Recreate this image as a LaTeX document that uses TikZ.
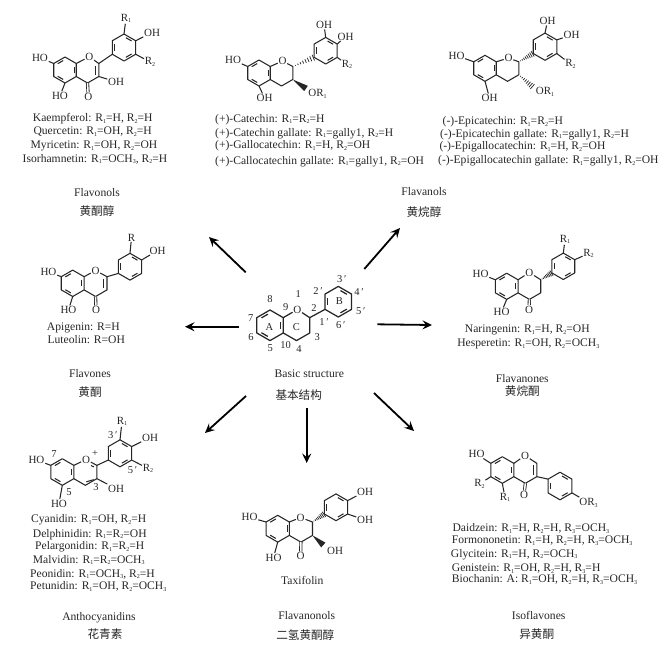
\documentclass[tikz,border=0pt]{standalone}
\usepackage{fontspec}
\setmainfont{Liberation Serif}
\newfontfamily\cjkf{Noto Sans CJK SC}
\usetikzlibrary{calc,arrows.meta}
\definecolor{ink}{HTML}{262626}
\newcommand\subx[1]{\raisebox{-.35ex}{\fontsize{6}{6}\selectfont #1}}
\newcommand\Ra{R\subx{1}}
\newcommand\Rb{R\subx{2}}
\newcommand\Rc{R\subx{3}}
\newcommand\och{OCH\subx{3}}
\tikzset{
  bond/.style={draw=ink,line width=1.05pt,line join=round},
  dbond/.style={draw=ink,line width=.85pt,double=white,double distance=1.5pt},
  arr/.style={draw=black,line width=1.8pt,-{Stealth[length=9.5pt,width=9pt,inset=3.5pt]}},
  atom/.style={inner sep=.6pt,text=ink,font=\fontsize{11}{12}\selectfont},
  num/.style={inner sep=0pt,text=ink,font=\fontsize{10.5}{12}\selectfont},
  txt/.style={inner sep=0pt,text=ink,font=\fontsize{11.6}{12}\selectfont},
  ltxt/.style={txt,anchor=west},
  cn/.style={inner sep=0pt,text=ink,font=\cjkf\fontsize{11.6}{12}\selectfont}
}
% prefix, r, cx, cy, inner double-bond edges
\newcommand\hexa[5]{%
  \foreach \k in {30,90,150,210,270,330}
    \coordinate (#1\k) at ({#3+#2*cos(\k)},{#4-#2*sin(\k)});
  \draw[bond] (#130)--(#190)--(#1150)--(#1210)--(#1270)--(#1330)--cycle;
  \foreach \k in {#5}
    \draw[bond] ({#3+.74*#2*cos(\k+11)},{#4-.74*#2*sin(\k+11)})--({#3+.74*#2*cos(\k+49)},{#4-.74*#2*sin(\k+49)});
}
% r, cx, cy: A ring plus atoms of the pyran ring
\newcommand\core[3]{%
  \hexa{a}{#1}{#2}{#3}{90,210,330}
  \coordinate (c2) at ({#2+2.598*#1},{#3-.5*#1});
  \coordinate (c3) at ({#2+2.598*#1},{#3+.5*#1});
  \coordinate (c4) at ({#2+1.732*#1},{#3+#1});
}
% closes the pyran ring through the named oxygen node
\newcommand\pyran[1]{\draw[bond] (a30)--(#1)--(c2)--(c3)--(c4)--(a330);}
\newcommand\ccdbl{\draw[bond] ($(c2)+(-3.2,2)$)--($(c3)+(-3.2,-2)$);}
\newcommand\hashb[2]{%
  \foreach \t in {.12,.24,...,1.0}{
    \pgfmathsetmacro\w{\t*3.2}
    \draw[draw=ink,line width=.75pt] ($(#1)!\t!(#2)!\w pt!90:(#2)$)--($(#1)!\t!(#2)!\w pt!-90:(#2)$);
  }}
\newcommand\solidw[2]{\fill[ink] (#1)--($(#2)!3.2pt!90:(#1)$)--($(#2)!3.2pt!-90:(#1)$)--cycle;}
\begin{document}
\begin{tikzpicture}[x=1pt,y=-1pt]
\useasboundingbox (0,0) rectangle (668,646);

%% Flavonols
\core{13}{65}{70}
\hexa{b}{13.5}{124}{47.5}{30,150,270}
\node[atom] (foO) at (89.3,56.7) {O};
\pyran{foO}\ccdbl
\draw[bond] (c2)--(b210);
\node[atom] (foHOa) at (40,57.7) {HO};
\node[atom] (foHOb) at (60,95.7) {HO};
\node[atom] (foOc) at (88.3,97) {O};
\node[atom] (foOH) at (116,81.7) {OH};
\node[atom] (foRa) at (126,18.5) {\Ra};
\node[atom] (foOHb) at (152,32.5) {OH};
\node[atom] (foRb) at (150,62) {\Rb};
\draw[bond] (a150)--(foHOa) (a270)--(foHOb) (c3)--(foOH) (b90)--(foRa) (b30)--(foOHb) (b330)--(foRb);
\draw[dbond] (c4)--(foOc);
\node[txt] (foT1) at (92.7,119) {Kaempferol: \Ra=H, \Rb=H};
\node[txt] (foT2) at (92.7,131.3) {Quercetin: \Ra=OH, \Rb=H};
\node[txt] (foT3) at (94,146) {Myricetin: \Ra=OH, \Rb=OH};
\node[txt] (foT4) at (95,159) {Isorhamnetin: \Ra=\och, \Rb=H};
\node[txt] (foN) at (97,192.3) {Flavonols};
\node[cn] (foC) at (97,211.5) {黄酮醇};

%% (+) Flavanols
\core{13}{259}{73}
\hexa{b}{13.3}{325.7}{50.7}{30,150,270}
\node[atom] (faO) at (282.5,61) {O};
\pyran{faO}
\hashb{c2}{b210}
\coordinate (faW) at (306,88.5);
\solidw{c3}{faW}
\node[atom] (faHO) at (233,60) {HO};
\node[atom] (faOHb) at (264.5,98) {OH};
\node[atom] (faOR) at (317.5,94) {OR\subx{1}};
\node[atom] (faOHt) at (324,25) {OH};
\node[atom] (faOHr) at (345.5,36.5) {OH};
\node[atom] (faRb) at (347,64.5) {\Rb};
\draw[bond] (a150)--(faHO) (a270)--(faOHb) (b90)--(faOHt) (b30)--(faOHr) (b330)--(faRb);
\node[ltxt] (faT1) at (215,119.3) {(+)-Catechin: \Ra=\Rb=H};
\node[ltxt] (faT2) at (215,133.3) {(+)-Catechin gallate: \Ra=gally1, \Rb=H};
\node[ltxt] (faT3) at (215,145.7) {(+)-Gallocatechin: \Ra=H, \Rb=OH};
\node[ltxt] (faT4) at (215,161.3) {(+)-Callocatechin gallate: \Ra=gally1, \Rb=OH};
\node[txt] (faN) at (424,192) {Flavanols};
\node[cn] (faC) at (424,211.7) {黄烷醇};

%% (-) Flavanols
\core{13}{485}{68.3}
\hexa{b}{13.6}{545}{46.7}{30,150,270}
\node[atom] (feO) at (508.5,58) {O};
\pyran{feO}
\hashb{c2}{b210}
\coordinate (feW) at (533,87);
\hashb{c3}{feW}
\node[atom] (feHO) at (456.5,55.5) {HO};
\node[atom] (feOHb) at (489.5,98) {OH};
\node[atom] (feOR) at (545,91.5) {OR\subx{1}};
\node[atom] (feOHt) at (547.5,21) {OH};
\node[atom] (feOHr) at (571.5,35) {OH};
\node[atom] (feRb) at (570.5,64) {\Rb};
\draw[bond] (a150)--(feHO) (a270)--(feOHb) (b90)--(feOHt) (b30)--(feOHr) (b330)--(feRb);
\node[ltxt] (feT1) at (442.5,121.7) {(-)-Epicatechin: \Ra=\Rb=H};
\node[ltxt] (feT2) at (440,134.3) {(-)-Epicatechin gallate: \Ra=gally1, \Rb=H};
\node[ltxt] (feT3) at (439.3,147) {(-)-Epigallocatechin: \Ra=H, \Rb=OH};
\node[ltxt] (feT4) at (438,160.7) {(-)-Epigallocatechin gallate: \Ra=gally1, \Rb=OH};

%% Flavones
\core{13.2}{72.7}{283.3}
\hexa{b}{13.4}{130}{266.7}{30,150,270}
\node[atom] (fnO) at (95.5,270.5) {O};
\pyran{fnO}\ccdbl
\draw[bond] (c2)--(b210);
\node[atom] (fnHOa) at (48.5,271.7) {HO};
\node[atom] (fnHOb) at (68.5,310) {HO};
\node[atom] (fnOc) at (96,310) {O};
\node[atom] (fnR) at (131.5,237.5) {R};
\node[atom] (fnOH) at (157.5,250.5) {OH};
\draw[bond] (a150)--(fnHOa) (a270)--(fnHOb) (b90)--(fnR) (b30)--(fnOH);
\draw[dbond] (c4)--(fnOc);
\node[ltxt] (fnT1) at (46.7,327.7) {Apigenin: R=H};
\node[ltxt] (fnT2) at (47.3,340) {Luteolin: R=OH};
\node[txt] (fnN) at (90,374) {Flavones};
\node[cn] (fnC) at (90,392.3) {黄酮};

%% Basic structure
\tikzset{bond/.append style={line width=1.25pt}}
\core{15.3}{270}{325.3}
\hexa{b}{15.3}{338.3}{301.7}{30,150,270}
\node[atom] (bsO) at (297.3,309.5) {O};
\pyran{bsO}
\draw[bond] (c2)--(b210);
\tikzset{bond/.append style={line width=1.05pt}}
\node[num] (n8) at (270,299.3) {8};
\node[num] (n9) at (285.7,307.3) {9};
\node[num] (n1) at (298.3,294) {1};
\node[num] (n2) at (314,308.3) {2};
\node[num] (n7) at (250.7,318) {7};
\node[num] (n6) at (251,337) {6};
\node[num] (n5) at (270.3,348) {5};
\node[num] (n10) at (285.7,345) {10};
\node[num] (n4) at (299,349.3) {4};
\node[num] (n3) at (317.3,337) {3};
\node[num] (nA) at (269.3,327.3) {A};
\node[num] (nC) at (296.3,327.3) {C};
\node[num] (nB) at (339.3,300.7) {B};
\node[num] (n1p) at (324,321.7) {1\,′};
\node[num] (n2p) at (318,290.7) {2\,′};
\node[num] (n3p) at (341.7,279.3) {3\,′};
\node[num] (n4p) at (359,292) {4\,′};
\node[num] (n5p) at (360.7,310.7) {5\,′};
\node[num] (n6p) at (340.7,325) {6\,′};
\node[txt] (bsN) at (309.3,374) {Basic structure};
\node[cn] (bsC) at (298.7,394.7) {基本结构};

%% Flavanones
\core{13.1}{506.7}{286.3}
\hexa{b}{13.2}{563.3}{266.3}{30,150,270}
\node[atom] (fvO) at (529.3,272.5) {O};
\pyran{fvO}
\hashb{c2}{b210}
\node[atom] (fvHO) at (480.5,274) {HO};
\node[atom] (fvHOb) at (501.5,312) {HO};
\node[atom] (fvOc) at (529,309.5) {O};
\node[atom] (fvRa) at (565,239.5) {\Ra};
\node[atom] (fvRb) at (588.5,253.5) {\Rb};
\draw[bond] (a150)--(fvHO) (a270)--(fvHOb) (b90)--(fvRa) (b30)--(fvRb);
\draw[dbond] (c4)--(fvOc);
\node[txt] (fvT1) at (527.3,330) {Naringenin: \Ra=H, \Rb=OH};
\node[txt] (fvT2) at (528.3,344.3) {Hesperetin: \Ra=OH, \Rb=\och};
\node[txt] (fvN) at (522.3,378.3) {Flavanones};
\node[cn] (fvC) at (522.3,391.3) {黄烷酮};

%% Anthocyanidins
\core{13.3}{62.3}{472}
\hexa{b}{13.5}{120}{453.3}{30,150,270}
\node[atom] (anO) at (86,459.5) {O};
\pyran{anO}
\draw[bond] (c2)--(b210);
\draw[bond] ($(c3)+(-3.2,1)$)--($(c4)+(1,-3.5)$);
\draw[bond] ($(anO)+(5,6)$)--($(c2)+(-3,1.5)$);
\node[num] (anP) at (95,453.5) {+};
\node[atom] (anHOa) at (36.5,460) {HO};
\node[atom] (anHOb) at (59,503.5) {HO};
\node[atom] (anOH) at (116,488.5) {OH};
\node[atom] (anRa) at (122,421.5) {\Ra};
\node[atom] (anOHb) at (150,437.5) {OH};
\node[atom] (anRb) at (148,468.5) {\Rb};
\draw[bond] (a150)--(anHOa) (a270)--(anHOb) (c3)--(anOH) (b90)--(anRa) (b30)--(anOHb) (b330)--(anRb);
\node[num] (an7) at (54,454) {7};
\node[num] (an5) at (69,491.7) {5};
\node[num] (an3) at (96,487.3) {3};
\node[num] (an3p) at (112.7,435) {3\,′};
\node[num] (an5p) at (132.5,470) {5\,′};
\node[ltxt] (anT1) at (31,520) {Cyanidin: \Ra=OH, \Rb=H};
\node[ltxt] (anT2) at (32.7,534.3) {Delphinidin: \Ra=\Rb=OH};
\node[ltxt] (anT3) at (35,547) {Pelargonidin: \Ra=\Rb=H};
\node[ltxt] (anT4) at (32.7,560) {Malvidin: \Ra=\Rb=\och};
\node[ltxt] (anT5) at (30,574) {Peonidin: \Ra=\och, \Rb=H};
\node[ltxt] (anT6) at (30,586.7) {Petunidin: \Ra=OH, \Rb=\och};
\node[txt] (anN) at (99,617.3) {Anthocyanidins};
\node[cn] (anC) at (105,634.3) {花青素};

%% Taxifolin
\core{13.4}{277.7}{528.7}
\hexa{b}{13.4}{336}{507.3}{30,150,270}
\node[atom] (txO) at (300.7,517.5) {O};
\pyran{txO}
\hashb{c2}{b210}
\coordinate (txW) at (323.3,545);
\solidw{c3}{txW}
\node[atom] (txHO) at (249.5,517.3) {HO};
\node[atom] (txHOb) at (273.5,557.5) {HO};
\node[atom] (txOc) at (300.7,556) {O};
\node[atom] (txOH) at (335,550.5) {OH};
\node[atom] (txOHa) at (365,491.5) {OH};
\node[atom] (txOHb) at (365,520) {OH};
\draw[bond] (a150)--(txHO) (a270)--(txHOb) (b30)--(txOHa) (b330)--(txOHb);
\draw[dbond] (c4)--(txOc);
\node[txt] (txT) at (302.3,580) {Taxifolin};
\node[txt] (txN) at (306.7,615.3) {Flavanonols};
\node[cn] (txC) at (305.3,634.7) {二氢黄酮醇};

%% Isoflavones
\core{13.3}{502.3}{470}
\hexa{b}{13.8}{560}{486}{30,150,270}
\node[atom] (isO) at (525,455.5) {O};
\pyran{isO}\ccdbl
\draw[bond] (c3)--(b150);
\node[atom] (isHO) at (476.5,454) {HO};
\node[atom] (isOc) at (524,495) {O};
\node[atom] (isRb) at (479.5,484) {\Rb};
\node[atom] (isRa) at (505,497.5) {\Ra};
\node[atom] (isOR) at (588.5,502.5) {OR\subx{3}};
\draw[bond] (a150)--(isHO) (a210)--(isRb) (a270)--(isRa) (b330)--(isOR);
\draw[dbond] (c4)--(isOc);
\node[ltxt] (isT1) at (452.3,528.7) {Daidzein: \Ra=H, \Rb=H, \Rc=\och};
\node[ltxt] (isT2) at (451.7,540.3) {Formononetin: \Ra=H, \Rb=H, \Rc=\och};
\node[ltxt] (isT3) at (450.7,554.3) {Glycitein: \Ra=H, \Rb=\och};
\node[ltxt] (isT4) at (451.7,568.3) {Genistein: \Ra=OH, \Rb=H, \Rc=H};
\node[ltxt] (isT5) at (451.7,579.3) {Biochanin: A: \Ra=OH, \Rb=H, \Rc=\och};
\node[txt] (isN) at (538.7,615) {Isoflavones};
\node[cn] (isC) at (536.7,634.3) {异黄酮};

%% Arrows
\coordinate (s1) at (245.7,272.3); \coordinate (e1) at (209,237);
\coordinate (s2) at (364.3,269);   \coordinate (e2) at (400,228);
\coordinate (s3) at (239.3,326.7); \coordinate (e3) at (185,326.7);
\coordinate (s4) at (377.3,324.3); \coordinate (e4) at (432,325);
\coordinate (s5) at (246,396);     \coordinate (e5) at (205,433);
\coordinate (s6) at (306.7,408);   \coordinate (e6) at (306.7,463);
\coordinate (s7) at (374,393);     \coordinate (e7) at (414,431);
\foreach \i in {1,...,7} \draw[arr] (s\i)--(e\i);
\end{tikzpicture}
\end{document}
